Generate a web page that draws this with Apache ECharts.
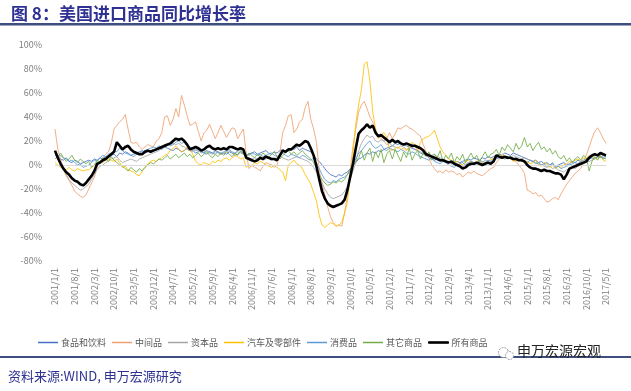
<!DOCTYPE html>
<html><head><meta charset="utf-8">
<script src="https://cdn.jsdelivr.net/npm/echarts@6/dist/echarts.min.js"></script>
<style>html,body{margin:0;padding:0;background:#fff}#c{width:631px;height:391px}</style>
</head><body><div id="c"></div>
<script>
// categories: monthly 2001/1/1 .. 2017/5/1
var categories = [];
for (var y = 2001; y <= 2017; y++) { for (var m = 1; m <= 12; m++) { if (y === 2017 && m > 5) break; categories.push(y + '/' + m + '/1'); } }

var yTicks = [-80, -60, -40, -20, 0, 20, 40, 60, 80, 100];

var food = [
8, 7, 5, 4, 6, 3, 2, 4, 3, 1, 2, 3,
4, 3, 5, 4, 6, 5, 7, 6, 8, 9, 7, 10,
9, 11, 10, 8, 9, 10, 11, 12, 10, 11, 12, 13,
12, 14, 13, 15, 14, 13, 12, 14, 13, 11, 12, 14,
13, 12, 10, 11, 12, 10, 9, 11, 10, 12, 11, 9,
10, 9, 11, 10, 8, 9, 11, 10, 8, 9, 10, 11,
9, 10, 11, 12, 10, 9, 11, 10, 12, 13, 11, 12,
14, 13, 15, 12, 14, 13, 12, 11, 8, 5, 3, 0,
-3, -6, -8, -9, -10, -8, -9, -7, -6, -3, -1, 2,
5, 6, 8, 10, 9, 11, 10, 12, 11, 13, 14, 15,
16, 18, 17, 19, 17, 16, 15, 14, 13, 12, 10, 9,
8, 6, 5, 4, 5, 3, 4, 2, 3, 1, 2, 3,
2, 3, 4, 5, 4, 6, 5, 4, 6, 5, 7, 6,
7, 8, 9, 8, 10, 9, 8, 10, 9, 8, 7, 6,
5, 4, 3, 4, 2, 3, 1, 2, 0, 1, -1, 0,
1, 2, 0, 1, 3, 2, 4, 3, 2, 4, 5, 6,
5, 7, 6, 8, 7];

var industrial = [
30, 13, 5, -3, -9, -13, -17, -22, -24, -26, -27, -25,
-20, -15, -10, -2, 2, 6, 9, 11, 18, 30, 33, 36,
38, 42, 30, 19, 18, 19, 15, 13, 15, 17, 16, 15,
20, 22, 27, 40, 41, 33, 38, 47, 40, 58, 50, 41,
33, 34, 36, 28, 20, 27, 29, 34, 28, 22, 27, 33,
28, 23, 27, 31, 30, 22, 26, 30, 10, -3, 0, -2,
-3, -5, -1, 2, 1, 0, -2, 0, 10, 27, 33, 41,
42, 27, 30, 36, 38, 48, 53, 38, 30, 19, -5, -15,
-25, -35, -43, -48, -51, -50, -51, -40, -26, -5, 16, 30,
44, 50, 53, 47, 40, 36, 30, 24, 22, 20, 22, 27,
22, 26, 31, 30, 32, 33, 31, 30, 28, 26, 24, 17,
11, 6, 0, -3, -6, -5, -7, -4, -6, -5, -6, -8,
-7, -10, -8, -6, -7, -5, -7, -8, -9, -7, -5, -3,
-2, 2, 5, 6, 7, 5, 6, 4, 3, 0, -3, -7,
-21, -22, -24, -23, -26, -25, -28, -31, -30, -28, -27, -29,
-24, -20, -16, -13, -10, -7, -5, -3, 3, 8, 15, 22,
28, 31, 27, 22, 18];

var capital = [
10, 5, 0, -4, -8, -12, -15, -17, -19, -21, -20, -18,
-16, -12, -8, -4, -1, 0, 2, 3, 5, 6, 7, 4,
2, 3, 4, 5, 4, 3, 5, 6, 7, 8, 9, 10,
11, 12, 14, 15, 16, 17, 18, 17, 18, 16, 15, 13,
12, 11, 13, 12, 10, 11, 12, 10, 9, 11, 10, 9,
10, 11, 12, 10, 9, 11, 10, 9, 7, 6, 5, 6,
5, 6, 4, 5, 6, 4, 5, 6, 7, 6, 5, 4,
5, 6, 7, 6, 5, 4, 3, 1, -2, -6, -10, -15,
-20, -24, -27, -28, -27, -26, -25, -22, -18, -12, -5, 3,
12, 18, 22, 25, 23, 24, 20, 19, 21, 20, 17, 18,
16, 15, 14, 16, 15, 13, 14, 15, 13, 12, 11, 10,
9, 10, 8, 9, 7, 6, 5, 4, 3, 2, 3, 1,
0, -2, 1, 2, 3, 2, 1, 3, 2, 4, 3, 4,
5, 6, 7, 6, 5, 7, 6, 8, 7, 6, 5, 6,
5, 4, 3, 2, 1, 0, -1, -2, -1, -3, -2, -4,
-5, -6, -4, -3, -2, -3, -1, 0, 1, 2, 3, 4,
5, 6, 7, 6, 5];

var autos = [
2, 0, -2, -3, -4, -2, -4, -5, -3, -4, -5, -4,
-4, -2, 0, 1, 3, 2, 4, 5, 4, 3, 5, 2,
-2, -1, -4, -5, -6, -8, -9, -5, -2, 1, 3, 4,
3, 5, 6, 8, 9, 12, 14, 16, 13, 11, 12, 15,
13, 9, 3, 1, 0, 2, 1, 0, 3, 2, 4, 3,
5, 6, 4, 6, 8, 7, 5, 6, -2, 0, -1, 2,
1, 3, 2, 0, -1, -2, 0, -2, -4, -6, -13, 0,
2, 4, 1, 0, -3, -8, -12, -16, -23, -30, -42, -50,
-52, -50, -48, -49, -51, -50, -48, -40, -31, -10, 10, 35,
50, 63, 84, 86, 70, 45, 30, 22, 25, 27, 23, 13,
12, 14, 15, 13, 14, 12, 15, 19, 17, 12, 19, 22,
23, 24, 26, 29, 22, 15, 11, 8, 5, 4, 2, 3,
1, 0, 3, 4, 2, 1, 3, 4, 2, 0, 3, 5,
5, 8, 6, 9, 7, 5, 6, 3, 4, 5, 3, 2,
3, 1, 2, 4, 0, -1, 2, 1, -2, 0, -3, -1,
-2, 0, 1, 3, 2, 4, 5, 3, 6, 5, 8, 7,
6, 5, 8, 4, 3];

var consumer = [
9, 7, 8, 6, 5, 3, 4, 2, 0, 1, -2, -1,
0, 2, 4, 3, 6, 8, 7, 9, 10, 12, 11, 14,
12, 10, 9, 8, 7, 9, 10, 11, 12, 13, 14, 15,
14, 16, 15, 17, 18, 16, 17, 19, 20, 18, 19, 17,
15, 14, 12, 13, 11, 10, 12, 11, 10, 9, 11, 10,
11, 12, 13, 11, 10, 12, 13, 11, 9, 8, 10, 9,
8, 9, 7, 8, 9, 10, 8, 7, 9, 10, 8, 7,
9, 8, 7, 6, 8, 7, 5, 4, 6, 2, -3, -8,
-12, -14, -15, -13, -14, -12, -11, -10, -8, -4, 0, 5,
10, 12, 15, 18, 20, 16, 14, 15, 17, 13, 12, 14,
13, 12, 11, 13, 12, 10, 9, 11, 10, 8, 7, 6,
5, 4, 6, 3, 2, 1, 3, 2, 0, -1, -2, 0,
1, 2, 0, 1, 3, 2, 1, 4, 3, 2, 4, 3,
4, 5, 6, 7, 5, 6, 7, 5, 6, 4, 5, 3,
2, 4, 3, 1, 2, 0, 1, -1, 0, 2, -2, -1,
-3, -2, -1, 0, 1, 2, 1, 3, 4, 5, 6, 7,
8, 9, 7, 6, 8];

var other = [
5, 7, 10, 6, 3, 5, 8, 4, 2, 5, 3, 1,
3, -2, 0, 4, 2, 6, 5, 3, 7, 4, 2, 0,
-1, -3, -5, -2, -4, -6, -3, -5, -2, 0, 2, 1,
3, 5, 4, 6, 8, 5, 7, 9, 6, 8, 10, 7,
9, 6, 8, 10, 7, 9, 11, 8, 6, 9, 7, 10,
8, 11, 9, 7, 10, 8, 12, 9, 7, 10, 8, 6,
9, 7, 10, 8, 6, 9, 11, 7, 5, 8, 10, 12,
9, 11, 8, 10, 12, 9, 7, 5, 2, -3, -8, -12,
-15, -17, -16, -14, -15, -13, -14, -12, -8, -4, 0, 3,
6, 12, 4, 10, 14, 3, 11, 6, 13, 2, 9, 12,
5, 13, 8, 3, 11, 6, 14, 4, 9, 12, 5, 10,
7, 11, 4, 9, 6, 12, 3, 8, 5, 10, 2, 7,
4, 9, 2, 6, 10, 5, 8, 3, 7, 11, 6, 9,
10, 13, 8, 15, 12, 17, 14, 11, 18, 13, 16, 23,
15, 18, 12, 16, 19, 13, 15, 11, 14, 9, 12, 7,
5, 8, 3, 6, 2, 5, 7, 4, 8, 6, -5, 3,
7, 4, 8, 5, 6];

var allGoods = [
12, 6, 1, -3, -6, -8, -11, -13, -14, -16, -17, -15,
-12, -9, -5, 1, 2, 4, 5, 7, 9, 11, 19, 16,
13, 15, 16, 13, 11, 10, 9, 9, 11, 12, 11, 12,
13, 14, 15, 16, 17, 18, 20, 22, 21, 22, 20, 17,
13, 14, 15, 14, 12, 13, 15, 16, 14, 13, 14, 13,
14, 13, 15, 15, 14, 13, 14, 13, 6, 5, 4, 3,
4, 6, 5, 7, 6, 5, 5, 4, 8, 12, 11, 13,
13, 15, 17, 16, 18, 20, 19, 14, 8, -1, -12, -22,
-28, -32, -34, -35, -34, -33, -32, -29, -21, -10, 1, 14,
26, 29, 31, 34, 31, 33, 27, 24, 25, 23, 21, 19,
21, 19, 20, 18, 17, 18, 17, 16, 16, 15, 14, 12,
9, 8, 7, 6, 5, 4, 4, 3, 2, 3, 1, 0,
-1, -3, -2, 0, 1, 1, 2, 1, 0, 1, 2, 1,
3, 8, 7, 6, 7, 6, 6, 5, 5, 4, 4, 3,
0, -2, -3, -3, -4, -5, -4, -5, -5, -6, -7, -7,
-8, -12, -8, -3, -2, -1, 0, 1, 2, 3, 6, 8,
9, 8, 10, 9, 8];

var seriesNames = ['食品和饮料', '中间品', '资本品', '汽车及零部件', '消费品', '其它商品', '所有商品'];
var seriesData = [food, industrial, capital, autos, consumer, other, allGoods];
var colors = ['#4472C4', '#F0A070', '#A5A5A5', '#FFC000', '#5B9BD5', '#70AD47', '#000000'];
var widths = [1, 1, 1, 1, 1, 1, 2.6];

var FONT = '"Noto Sans CJK SC", "Noto Sans", sans-serif';
var chart = echarts.init(document.getElementById('c'));
var series = seriesNames.map(function (n, k) {
  var s = {
    name: n, type: 'line', data: seriesData[k], symbol: 'none', showSymbol: false,
    lineStyle: { color: colors[k], width: widths[k], opacity: k === 6 ? 1 : 0.85 },
    itemStyle: { color: colors[k] }, z: k === 6 ? 10 : 2, animation: false
  };
  if (k === 0) {
    s.markLine = { silent: true, symbol: 'none', label: { show: false },
      lineStyle: { color: '#D9D9D9', width: 1, type: 'solid' }, data: [{ yAxis: 0 }] };
  }
  return s;
});

var legendData = seriesNames.map(function (n, k) {
  var d = { name: n, icon: 'rect', itemStyle: { color: colors[k] } };
  if (k === 6) { d.itemStyle = { color: '#000', borderColor: '#000', borderWidth: 1 }; }
  return d;
});

chart.setOption({
  animation: false,
  title: { text: '图 8：美国进口商品同比增长率', left: 6, top: 0,
    textStyle: { fontFamily: FONT, fontSize: 17, fontWeight: 'bold', color: '#2E3192' } },
  grid: { left: 55, right: 25, top: 45, bottom: 130 },
  legend: { data: legendData, left: 33, top: 333, itemWidth: 20, itemHeight: 1.5, itemGap: 6,
    textStyle: { fontFamily: FONT, fontSize: 9, color: '#595959', padding: [0, 0, 0, -2] } },
  xAxis: { type: 'category', data: categories, boundaryGap: false,
    axisLine: { show: false }, axisTick: { show: false }, splitLine: { show: false },
    axisLabel: { interval: 6, rotate: 90, fontFamily: FONT, fontSize: 9, color: '#7F7F7F', margin: 7 } },
  yAxis: { type: 'value', min: yTicks[0], max: yTicks[yTicks.length - 1], interval: 20,
    axisLine: { show: false }, axisTick: { show: false }, splitLine: { show: false },
    axisLabel: { formatter: '{value}%', fontFamily: FONT, fontSize: 9, color: '#7F7F7F', margin: 13 } },
  series: series,
  graphic: [
    { type: 'rect', left: 0, top: 23, shape: { width: 631, height: 2.5 }, style: { fill: '#3E4E7E' } },
    { type: 'rect', left: 0, top: 356, shape: { width: 631, height: 2 }, style: { fill: '#3E4E7E' } },
    { type: 'circle', left: 498, top: 347, shape: { r: 5 }, style: { fill: '#fff', stroke: '#999', lineWidth: 1, lineDash: [2, 1] } },
    { type: 'circle', left: 505, top: 351, shape: { r: 4 }, style: { fill: '#fff', stroke: '#999', lineWidth: 1, lineDash: [2, 1] } },
    { type: 'text', left: 517, top: 344, style: { text: '申万宏源宏观', font: '14px ' + FONT, fill: '#222' } },
    { type: 'text', left: 8, top: 370, style: { text: '资料来源:WIND, 申万宏源研究', font: '13px ' + FONT, fill: '#2E3192' } }
  ]
});
</script></body></html>
